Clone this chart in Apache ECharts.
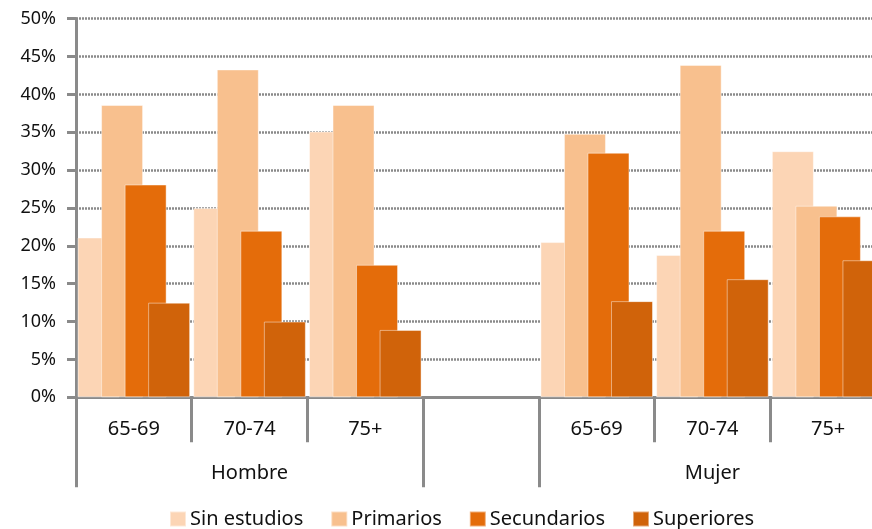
<!DOCTYPE html>
<html>
<head>
<meta charset="utf-8">
<script src="https://cdn.jsdelivr.net/npm/echarts@6/dist/echarts.min.js"></script>
<style>
html,body{margin:0;padding:0;background:#fff;overflow:hidden;}
#chart{width:872px;height:529px;}
</style>
</head>
<body>
<div id="chart"></div>
<script>
// Data (percentages)
const ageCategories = ['65-69', '70-74', '75+', '', '65-69', '70-74', '75+'];
const groupLabels = ['', 'Hombre', '', '', '', 'Mujer', ''];
const seriesNames = ['Sin estudios', 'Primarios', 'Secundarios', 'Superiores'];
const sinEstudios = [21.1, 25.0, 35.1, null, 20.5, 18.8, 32.5];
const primarios   = [38.6, 43.3, 38.6, null, 34.8, 43.9, 25.3];
const secundarios = [28.1, 22.0, 17.5, null, 32.3, 22.0, 23.9];
const superiores  = [12.5, 10.0, 8.9, null, 12.7, 15.6, 18.1];
const yMax = 50, yInterval = 5;

const colors = ['#FCD5B5', '#F8C08E', '#E46C0A', '#D0630A'];
const font = 'Noto Sans';
const axisGray = '#8a8a8a';

const chart = echarts.init(document.getElementById('chart'), null, {renderer: 'canvas'});

const seriesData = [sinEstudios, primarios, secundarios, superiores];
const series = seriesNames.map((name, i) => ({
  name: name,
  type: 'bar',
  data: seriesData[i],
  barWidth: 42,
  barGap: '-44%',
  itemStyle: {color: colors[i], borderColor: 'rgba(255,255,255,0.45)', borderWidth: 1},
  emphasis: {disabled: true},
  animation: false
}));

chart.setOption({
  animation: false,
  color: colors,
  textStyle: {fontFamily: font},
  grid: {left: 76, top: 18.7, width: 810, bottom: 131.7, containLabel: false, outerBoundsMode: 'none'},
  legend: {
    data: seriesNames,
    left: 164,
    top: 504,
    padding: 5,
    icon: 'rect',
    itemWidth: 16,
    itemHeight: 15,
    itemGap: 27,
    textStyle: {fontFamily: font, fontSize: 20, color: '#111', padding: [0, 0, 0, -1]},
    selectedMode: false
  },
  xAxis: [
    {
      type: 'category',
      data: ageCategories,
      position: 'bottom',
      boundaryGap: true,
      axisLine: {show: true, lineStyle: {color: axisGray, width: 3}},
      axisTick: {show: true, interval: 0, length: 45, lineStyle: {color: axisGray, width: 3}},
      axisLabel: {interval: 0, margin: 22, fontFamily: font, fontSize: 20, color: '#111'},
      splitLine: {show: false}
    },
    {
      type: 'category',
      data: groupLabels,
      position: 'bottom',
      boundaryGap: true,
      axisLine: {show: false},
      axisTick: {
        show: true,
        length: 90,
        interval: function (index) { return index === 0 || index === 3 || index === 4; },
        lineStyle: {color: axisGray, width: 3}
      },
      axisLabel: {interval: 0, margin: 66, fontFamily: font, fontSize: 20, color: '#111'},
      splitLine: {show: false}
    }
  ],
  yAxis: {
    type: 'value',
    min: 0,
    max: yMax,
    interval: yInterval,
    axisLine: {show: true, lineStyle: {color: axisGray, width: 3}},
    axisTick: {show: true, length: 9, lineStyle: {color: axisGray, width: 3}},
    axisLabel: {formatter: '{value}%', margin: 20, fontFamily: font, fontSize: 18, color: '#111'},
    splitLine: {show: true, lineStyle: {color: axisGray, width: 2.5, type: [2, 1]}}
  },
  series: series
});
</script>
</body>
</html>
